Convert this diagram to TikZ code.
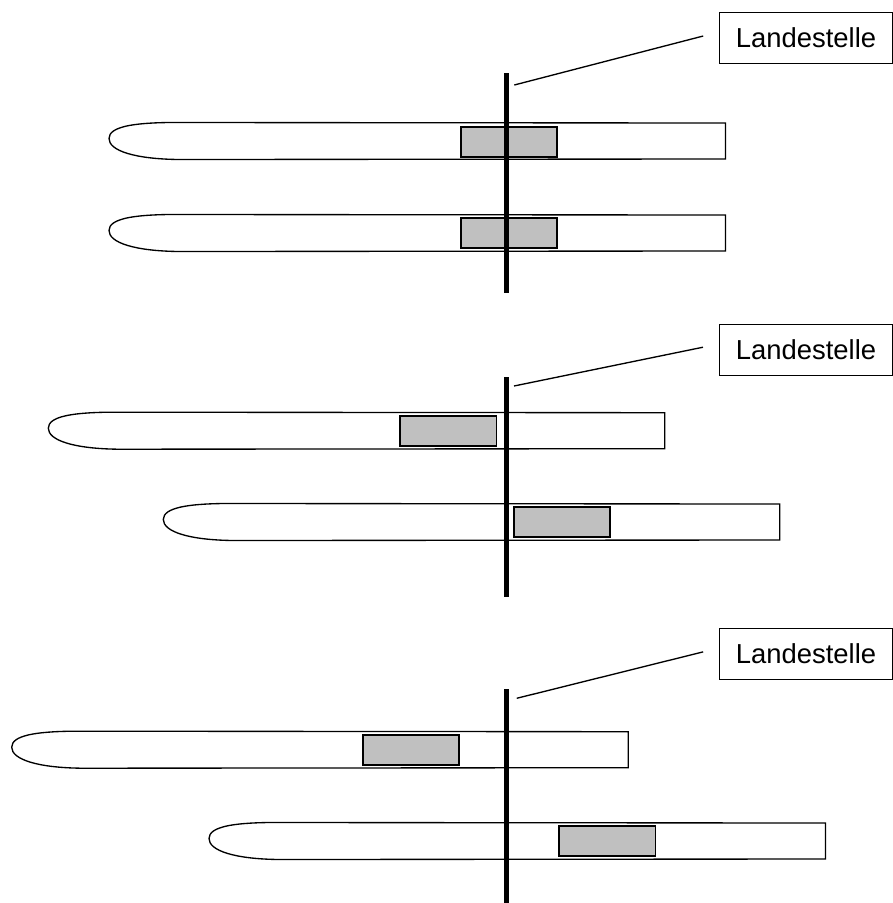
\documentclass[tikz,border=0pt]{standalone}
\usepackage{fontspec}
\setmainfont{Liberation Sans}
\usepackage{tikz}
\definecolor{padgray}{RGB}{192,192,192}

\begin{document}
\begin{tikzpicture}[x=0.025cm,y=-0.025cm,
    outline/.style={line width=0.95pt},
    blade/.pic={\draw[outline] (616.5,-15.5) -- (60,-16)
        .. controls (25,-15.5) and (0,-12) .. (0,0)
        .. controls (0,12) and (25,20.5) .. (70,21) -- (616.5,20.5) -- cycle;},
    padbox/.style={rectangle,draw,line width=1.3pt,fill=padgray,inner sep=0pt,
        minimum width=2.41cm,minimum height=0.75cm},
    sitebox/.style={rectangle,draw,line width=0.75pt,inner sep=0pt,
        minimum width=4.34cm,minimum height=1.27cm,font=\fontsize{19.5}{23}\selectfont},
    landline/.style={line width=3.8pt},
    leader/.style={line width=0.95pt,shorten >=0.4cm}]
      \useasboundingbox (0,0) rectangle (893,903);
      % blades
      \pic at (109,138.5) {blade};
      \pic at (109,230.5) {blade};
      \pic at (48.3,428.2) {blade};
      \pic at (163.3,519.5) {blade};
      \pic at (11.7,747.2) {blade};
      \pic at (209,838.5) {blade};
      % landing pads
      \node[padbox] (pad1) at (509,141.7) {};
      \node[padbox] (pad2) at (509,233) {};
      \node[padbox] (pad3) at (448.3,430.9) {};
      \node[padbox] (pad4) at (562,522) {};
      \node[padbox] (pad5) at (411,750.2) {};
      \node[padbox] (pad6) at (607.3,841.3) {};
      % landing line
      \draw[landline] (506.5,73) -- (506.5,293);
      \draw[landline] (506.5,377) -- (506.5,597);
      \draw[landline] (506.5,689) -- (506.5,903);
      % labels
      \node[sitebox] (site1) at (806,38) {Landestelle};
      \node[sitebox] (site2) at (806,350) {Landestelle};
      \node[sitebox] (site3) at (806,654) {Landestelle};
      \coordinate (foot1) at (514.3,85);
      \coordinate (foot2) at (514,386);
      \coordinate (foot3) at (516.7,698.3);
      \draw[leader] (foot1) -- ([yshift=0.15cm]site1.west);
      \draw[leader] (foot2) -- ([yshift=0.15cm]site2.west);
      \draw[leader] (foot3) -- ([yshift=0.15cm]site3.west);
    \end{tikzpicture}
\end{document}
